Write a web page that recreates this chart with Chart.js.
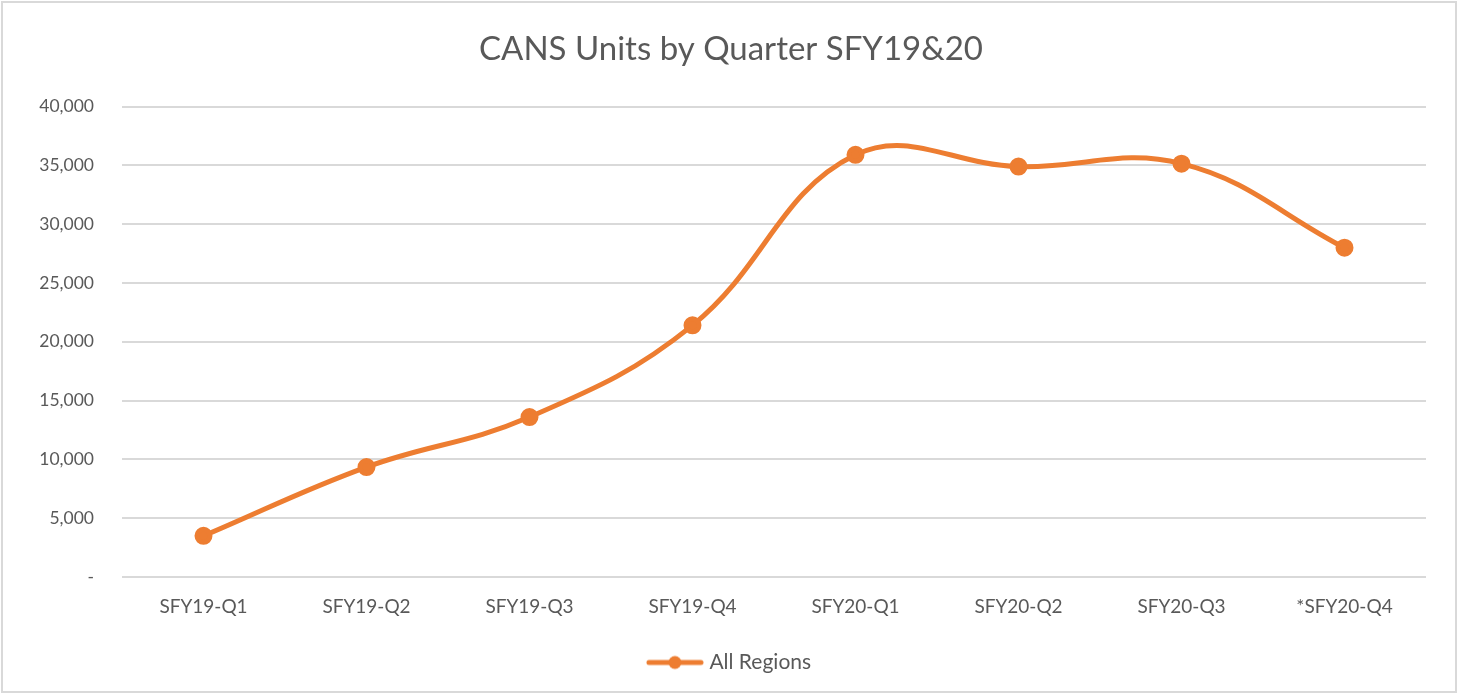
<!DOCTYPE html>
<html><head><meta charset="utf-8">
<script src="https://cdn.jsdelivr.net/npm/chart.js@4/dist/chart.umd.min.js"></script>
<style>
html,body{margin:0;padding:0;background:#fff;}
#wrap{position:absolute;left:0;top:0;width:1462px;height:695px;}
</style></head>
<body><div id="wrap"><canvas id="c" width="1462" height="695"></canvas></div>
<script>
const categories = ["SFY19-Q1","SFY19-Q2","SFY19-Q3","SFY19-Q4","SFY20-Q1","SFY20-Q2","SFY20-Q3","*SFY20-Q4"];
const allRegions = [3500, 9350, 13600, 21400, 35900, 34900, 35150, 28000];
const seriesName = "All Regions";
const titleText = "CANS Units by Quarter SFY19&20";
const yMin = 0, yMax = 40000, yStep = 5000;

const orange = "#ED7D31";
const textGray = "#595959";
const FONT = "Lato, 'Open Sans', sans-serif";

// legend marker: line with dot
const mk = document.createElement('canvas');
mk.width = 58; mk.height = 16;
{
  const g = mk.getContext('2d');
  g.strokeStyle = orange; g.lineWidth = 5; g.lineCap = 'round';
  g.beginPath(); g.moveTo(3, 8); g.lineTo(55, 8); g.stroke();
  g.fillStyle = orange; g.beginPath(); g.arc(29, 8, 6.5, 0, Math.PI*2); g.fill();
}

const borderPlugin = {
  id: 'outerBorder',
  beforeDraw(chart) {
    const ctx = chart.ctx;
    ctx.save();
    ctx.fillStyle = '#fff';
    ctx.fillRect(0, 0, chart.width, chart.height);
    ctx.strokeStyle = '#d9d9d9';
    ctx.lineWidth = 2;
    ctx.strokeRect(2, 2, chart.width - 8, chart.height - 5);
    ctx.restore();
  }
};

new Chart(document.getElementById('c'), {
  type: 'line',
  data: {
    labels: categories,
    datasets: [{
      label: seriesName,
      data: allRegions,
      borderColor: orange,
      backgroundColor: orange,
      borderWidth: 5,
      pointRadius: 6.5,
      pointHoverRadius: 6.5,
      pointBackgroundColor: orange,
      pointBorderColor: orange,
      tension: 0.4,
      fill: false
    }]
  },
  options: {
    responsive: false,
    animation: false,
    devicePixelRatio: 1,
    layout: { padding: { left: 36, right: 36, top: 0, bottom: 12 } },
    plugins: {
      title: {
        display: true,
        text: titleText,
        color: textGray,
        font: { family: FONT, size: 33, weight: 'normal' },
        padding: { top: 30, bottom: 37 }
      },
      legend: {
        position: 'bottom',
        labels: {
          color: textGray,
          font: { family: FONT, size: 21 },
          usePointStyle: true,
          pointStyle: mk,
          pointStyleWidth: 48,
          padding: 10,
          generateLabels(chart) {
            return [{ text: seriesName, pointStyle: mk, fillStyle: orange, strokeStyle: orange, lineWidth: 0, hidden: false, datasetIndex: 0, fontColor: textGray }];
          }
        }
      },
      tooltip: { enabled: false }
    },
    scales: {
      x: {
        type: 'category',
        offset: true,
        grid: { display: false, drawTicks: false },
        border: { display: false },
        ticks: { color: textGray, font: { family: FONT, size: 19 }, padding: 18, maxRotation: 0 },
        afterFit(scale) { scale.height = 65; }
      },
      y: {
        min: yMin, max: yMax,
        ticks: {
          stepSize: yStep,
          color: textGray,
          font: { family: FONT, size: 17.5 },
          padding: 28,
          callback: v => v === 0 ? '-' : v.toLocaleString('en-US')
        },
        grid: { color: '#d9d9d9', lineWidth: 2, drawTicks: false },
        border: { display: false },
        afterFit(scale) { scale.width = 86; }
      }
    }
  },
  plugins: [borderPlugin]
});
</script></body></html>
